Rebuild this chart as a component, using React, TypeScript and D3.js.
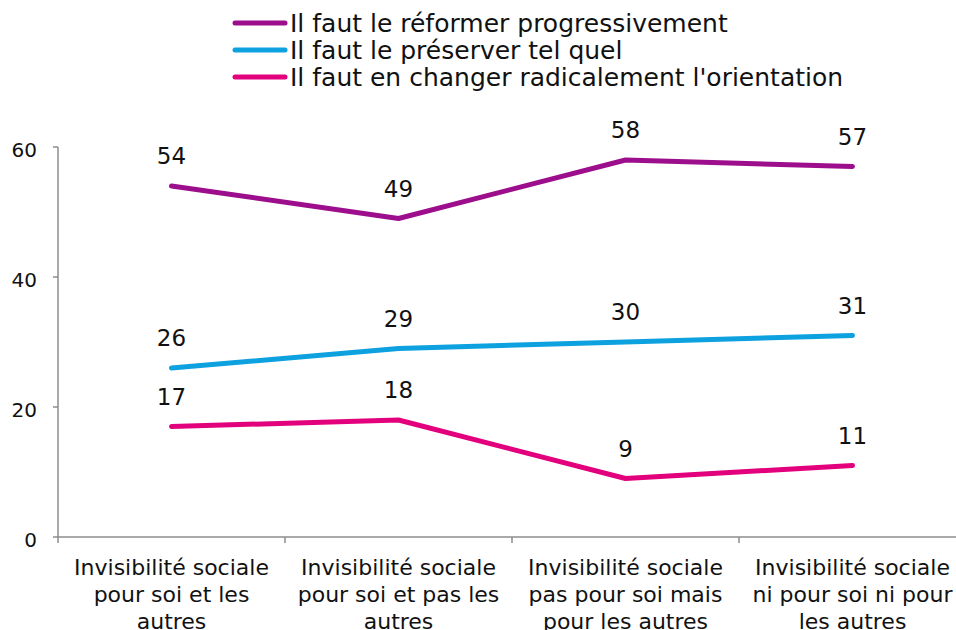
import React, { useEffect, useRef } from 'react';
import * as d3 from 'd3';

const categories = [
  'Invisibilité sociale pour soi et les autres',
  'Invisibilité sociale pour soi et pas les autres',
  'Invisibilité sociale pas pour soi mais pour les autres',
  'Invisibilité sociale ni pour soi ni pour les autres',
];
const categoryLines = [
  ['Invisibilité sociale', 'pour soi et les', 'autres'],
  ['Invisibilité sociale', 'pour soi et pas les', 'autres'],
  ['Invisibilité sociale', 'pas pour soi mais', 'pour les autres'],
  ['Invisibilité sociale', 'ni pour soi ni pour', 'les autres'],
];
const seriesNames = [
  'Il faut le réformer progressivement',
  'Il faut le préserver tel quel',
  "Il faut en changer radicalement l'orientation",
];
const reformer = [54, 49, 58, 57];
const preserver = [26, 29, 30, 31];
const changer = [17, 18, 9, 11];
const yTicks = [0, 20, 40, 60];
const colors = ['#9c0e8c', '#0ea1e0', '#e2007d'];

export default function App() {
  const ref = useRef<SVGSVGElement>(null);

  useEffect(() => {
    draw();
    // eslint-disable-next-line react-hooks/exhaustive-deps
  }, []);

  function draw() {
    const width = 956;
    const height = 630;
    const margin = { top: 147, left: 58, bottom: 93 };
    const bandW = 227;
    const font = 'DejaVu Sans, Verdana, sans-serif';
    const svg = d3.select(ref.current);
    svg.selectAll('*').remove();
    svg.attr('width', width).attr('height', height);

    const xScale = d3
      .scaleBand()
      .domain(categories)
      .range([margin.left, margin.left + bandW * categories.length]);
    const yScale = d3
      .scaleLinear()
      .domain([0, 60])
      .range([height - margin.bottom, margin.top]);

    const axisColor = '#8c8c8c';
    // y axis
    const yAxis = svg.append('g').attr('transform', `translate(${margin.left},0)`);
    yAxis
      .append('line')
      .attr('y1', yScale(0))
      .attr('y2', yScale(60))
      .attr('stroke', axisColor)
      .attr('stroke-width', 1.5);
    yAxis
      .selectAll('.ytick')
      .data(yTicks)
      .join('line')
      .attr('x1', -5)
      .attr('x2', 0)
      .attr('y1', (d) => yScale(d))
      .attr('y2', (d) => yScale(d))
      .attr('stroke', axisColor)
      .attr('stroke-width', 1.5);
    yAxis
      .selectAll('text')
      .data(yTicks)
      .join('text')
      .attr('x', -21)
      .attr('y', (d) => yScale(d))
      .attr('dy', '0.48em')
      .attr('text-anchor', 'end')
      .attr('font-family', font)
      .attr('font-size', 20)
      .attr('fill', '#111')
      .text((d) => d);

    // x axis
    const xAxis = svg.append('g').attr('transform', `translate(0,${yScale(0)})`);
    xAxis
      .append('line')
      .attr('x1', margin.left)
      .attr('x2', margin.left + bandW * categories.length)
      .attr('stroke', axisColor)
      .attr('stroke-width', 1.5);
    const bounds = categories.map((c) => xScale(c)!).concat([margin.left + bandW * categories.length]);
    xAxis
      .selectAll('.xtick')
      .data(bounds)
      .join('line')
      .attr('x1', (d) => d)
      .attr('x2', (d) => d)
      .attr('y1', 0)
      .attr('y2', 6)
      .attr('stroke', axisColor)
      .attr('stroke-width', 1.5);
    const labels = xAxis
      .selectAll('.xlabel')
      .data(categories)
      .join('text')
      .attr('text-anchor', 'middle')
      .attr('font-family', font)
      .attr('font-size', 22)
      .attr('fill', '#111')
      .attr('transform', (d) => `translate(${xScale(d)! + bandW / 2},38)`);
    labels
      .selectAll('tspan')
      .data((d) => categoryLines[categories.indexOf(d)])
      .join('tspan')
      .attr('x', 0)
      .attr('y', (d, i) => i * 27)
      .text((d) => d);

    // lines
    const allSeries = [reformer, preserver, changer];
    const line = d3
      .line<number>()
      .x((d, i) => xScale(categories[i])! + bandW / 2)
      .y((d) => yScale(d));
    allSeries.forEach((values, si) => {
      svg
        .append('path')
        .datum(values)
        .attr('d', line)
        .attr('fill', 'none')
        .attr('stroke', colors[si])
        .attr('stroke-width', 5)
        .attr('stroke-linecap', 'round')
        .attr('stroke-linejoin', 'round');
      svg
        .append('g')
        .selectAll('text')
        .data(values)
        .join('text')
        .attr('x', (d, i) => xScale(categories[i])! + bandW / 2)
        .attr('y', (d) => yScale(d) - 22)
        .attr('text-anchor', 'middle')
        .attr('font-family', font)
        .attr('font-size', 23)
        .attr('fill', '#111')
        .text((d) => d);
    });

    // legend
    const legend = svg.append('g').attr('transform', 'translate(233,23)');
    seriesNames.forEach((name, i) => {
      const row = legend.append('g').attr('transform', `translate(0,${i * 27})`);
      row
        .append('line')
        .attr('x1', 2)
        .attr('x2', 52)
        .attr('stroke', colors[i])
        .attr('stroke-width', 5)
        .attr('stroke-linecap', 'round');
      row
        .append('text')
        .attr('x', 57)
        .attr('dy', '0.36em')
        .attr('font-family', font)
        .attr('font-size', 25)
        .attr('fill', '#111')
        .text(name);
    });
  }

  return (
    <div style={{ position: 'absolute', left: 0, top: 0 }}>
      <svg ref={ref}></svg>
    </div>
  );
}
